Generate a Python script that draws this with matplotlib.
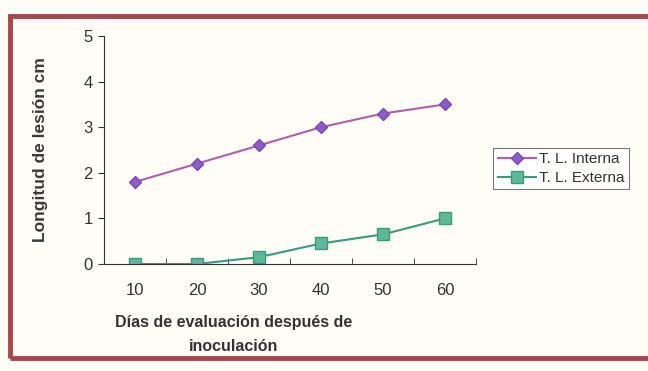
import matplotlib
matplotlib.use('Agg')
import matplotlib.pyplot as plt
from matplotlib.patches import Rectangle

plt.rcParams['font.family'] = ['Liberation Sans', 'DejaVu Sans']

dias = ['10', '20', '30', '40', '50', '60']
interna = [1.8, 2.2, 2.6, 3.0, 3.3, 3.5]
externa = [0.0, 0.0, 0.15, 0.45, 0.65, 1.0]

fig = plt.figure(figsize=(6.48, 3.71), dpi=100)
fig.patch.set_facecolor('#fffdf6')

# dark red frame around the chart
fig.patches.append(Rectangle((10 / 648, 1 - 358 / 371), 700 / 648, 342 / 371,
                             transform=fig.transFigure, fill=False,
                             edgecolor='#a5484a', linewidth=3.5, clip_on=False))

ax = fig.add_axes([104 / 648, 1 - 264 / 371, 372 / 648, 228 / 371])
ax.set_facecolor('none')

x = list(range(len(dias)))
ax.plot(x, interna, color='#b060a8', linewidth=1.5, marker='D', markersize=6,
        markerfacecolor='#8c5cc8', markeredgecolor='#7a4ab0', label='T. L. Interna')
ax.plot(x, externa, color='#3a9a80', linewidth=1.5, marker='s', markersize=8,
        markerfacecolor='#5fb898', markeredgecolor='#3a9a80', label='T. L. Externa')

ax.set_xlim(-0.5, 5.5)
ax.set_ylim(0, 5)
ax.set_yticks([0, 1, 2, 3, 4, 5])
ax.set_xticks(x)
ax.set_xticklabels(dias)
ax.set_xticks([i + 0.5 for i in range(-1, 6)], minor=True)
ax.tick_params(axis='x', which='major', length=0, pad=14, labelsize=12, colors='#333333')
ax.tick_params(axis='x', which='minor', length=4, direction='in', color='#333333')
ax.tick_params(axis='y', length=4, direction='out', labelsize=12, colors='#333333', pad=4)
for s in ['top', 'right']:
    ax.spines[s].set_visible(False)
ax.spines['left'].set_color('#333333')
ax.spines['bottom'].set_color('#333333')

ax.set_xlabel('Días de evaluación después de\ninoculación', fontsize=11.5,
              fontweight='bold', color='#333333', linespacing=1.7)
ax.xaxis.set_label_coords((234 - 104) / 372, -0.225, transform=ax.transAxes)
ax.xaxis.label.set_verticalalignment('top')
ax.set_ylabel('Longitud de lesión cm', fontsize=12.5, fontweight='bold',
              color='#3a3a3a')
ax.yaxis.set_label_coords((40 - 104) / 372, (264 - 150) / 228)
ax.yaxis.label.set_verticalalignment('center')

leg = ax.legend(loc='upper left', bbox_to_anchor=(389 / 372, 0.51), fontsize=11,
                frameon=True, fancybox=False, edgecolor='#555555',
                handlelength=2.5, borderpad=0.3, labelspacing=0.3,
                handletextpad=0.2, borderaxespad=0)
leg.get_frame().set_linewidth(0.8)
for t in leg.get_texts():
    t.set_color('#333333')

fig.savefig('out.png', dpi=100, facecolor=fig.get_facecolor())
